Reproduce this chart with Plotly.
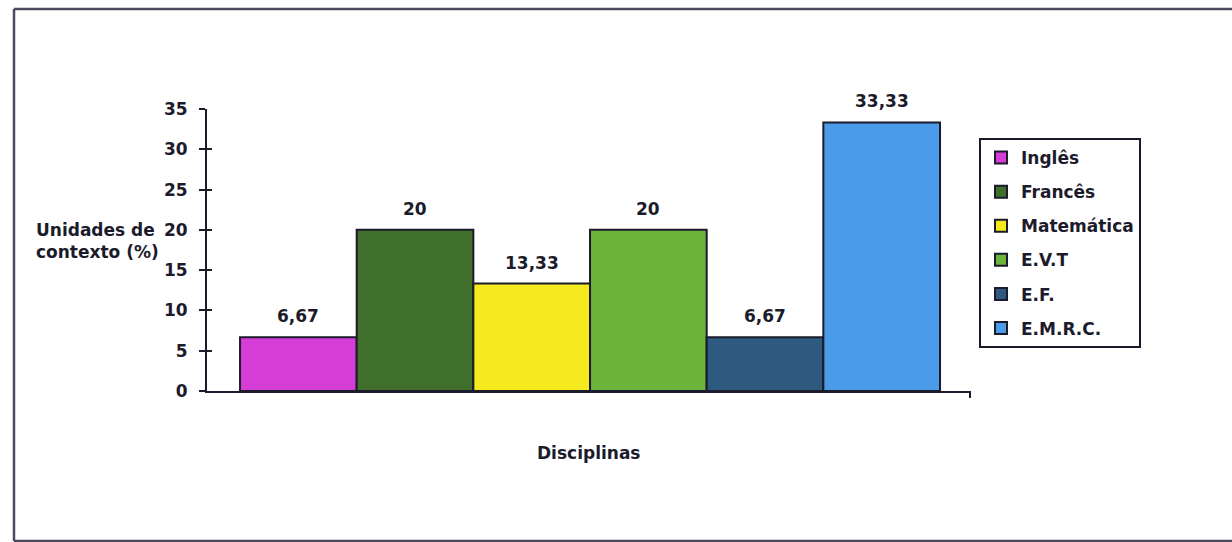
import plotly.graph_objects as go

# Percentage of context units per school subject
disciplinas = ["Inglês", "Francês", "Matemática", "E.V.T", "E.F.", "E.M.R.C."]
valores = [6.67, 20, 13.33, 20, 6.67, 33.33]
cores = ["#d63cd6", "#3f6f2b", "#f4ea1e", "#6bb33b", "#2d5a7e", "#4a9be8"]
y_ticks = [0, 5, 10, 15, 20, 25, 30, 35]

FONT = "DejaVu Sans"
INK = "#1b1b2b"
FS = 17

# plot-area geometry (pixels) used to place the frame and titles
W, H = 1232, 542
L, R, T, B = 207, 970, 109, 391
pw, ph = R - L, B - T


def px_x(x):
    return (x - L) / pw


def px_y(y):
    return (B - y) / ph


def fmt(v):
    return f"{v:g}".replace(".", ",")


fig = go.Figure()
for i, (nome, v, c) in enumerate(zip(disciplinas, valores, cores)):
    fig.add_trace(go.Bar(
        x=[i], y=[v], width=1, name=f"<b>{nome}</b>", legendgroup=nome,
        marker=dict(color=c, line=dict(color=INK, width=2)),
        hovertemplate=f"{nome}: %{{y}}<extra></extra>",
    ))
    fig.add_annotation(
        x=i, y=v, text=f"<b>{fmt(v)}</b>", showarrow=False,
        yanchor="bottom", yshift=9,
        font=dict(family=FONT, size=FS, color=INK),
    )

# invisible helper so the inside-tick overlay axis is rendered
fig.add_trace(go.Scatter(x=[0], y=[0], yaxis="y2", mode="markers",
                         marker=dict(opacity=0), showlegend=False,
                         hoverinfo="skip"))

fig.update_layout(
    width=W, height=H,
    margin=dict(l=L, r=W - R, t=T, b=H - B),
    paper_bgcolor="white", plot_bgcolor="white",
    barmode="overlay",
    font=dict(family=FONT, size=FS, color=INK),
    xaxis=dict(range=[-0.783, 5.757], showline=True, linecolor=INK,
               linewidth=2, showticklabels=False, ticks="",
               showgrid=False, zeroline=False, fixedrange=True),
    yaxis=dict(range=[0, 35], tickvals=y_ticks,
               ticktext=[f"<b>{t}</b>" for t in y_ticks],
               showline=True, linecolor=INK, linewidth=2,
               ticks="outside", ticklen=6, tickwidth=2, tickcolor=INK,
               ticklabelstandoff=8,
               showgrid=False, zeroline=False,
               tickfont=dict(family=FONT, size=FS, color=INK)),
    yaxis2=dict(range=[0, 35], tickvals=y_ticks, overlaying="y",
                side="left", ticks="inside", ticklen=5, tickwidth=2,
                tickcolor=INK, showticklabels=False, showline=False,
                showgrid=False, zeroline=False),
    showlegend=True,
    legend=dict(x=px_x(979), y=px_y(138), xanchor="left", yanchor="top",
                bgcolor="white", bordercolor=INK, borderwidth=2,
                tracegroupgap=9, itemwidth=30,
                font=dict(family=FONT, size=FS, color=INK)),
)

# axis titles
fig.add_annotation(
    xref="paper", yref="paper", x=px_x(161), y=px_y(241),
    xanchor="right", yanchor="middle", align="left", showarrow=False,
    text="<b>Unidades de<br>contexto (%)</b>",
    font=dict(family=FONT, size=FS, color=INK),
)
fig.add_annotation(
    xref="paper", yref="paper", x=0.5, y=px_y(453),
    xanchor="center", yanchor="middle", showarrow=False,
    text="<b>Disciplinas</b>",
    font=dict(family=FONT, size=FS, color=INK),
)

# end tick of the category axis
fig.add_shape(type="line", xref="paper", yref="paper",
              x0=1, x1=1, y0=0, y1=px_y(398),
              line=dict(color=INK, width=2))

# outer chart frame
frame = dict(color="#4a4a5c", width=2.5)
fig.add_shape(type="line", xref="paper", yref="paper",
              x0=px_x(14), x1=px_x(14), y0=px_y(9), y1=px_y(541), line=frame)
fig.add_shape(type="line", xref="paper", yref="paper",
              x0=px_x(14), x1=px_x(1240), y0=px_y(9), y1=px_y(9), line=frame)
fig.add_shape(type="line", xref="paper", yref="paper",
              x0=px_x(14), x1=px_x(1240), y0=px_y(541), y1=px_y(541), line=frame)

fig.write_html("out.html")
